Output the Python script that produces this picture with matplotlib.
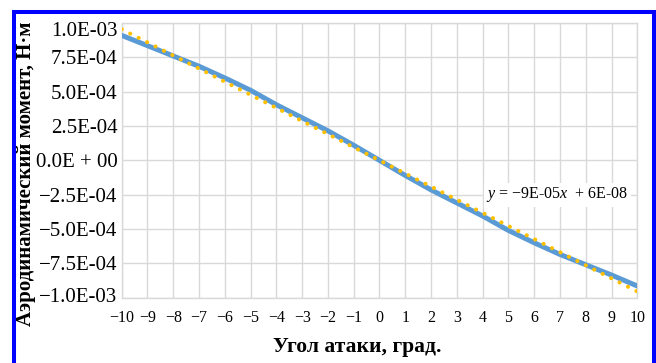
import matplotlib
matplotlib.use("Agg")
import matplotlib.pyplot as plt
import matplotlib.transforms as mtransforms
from matplotlib.patches import Rectangle
import numpy as np

# угол атаки, град. и аэродинамический момент, Н·м
angles = [-10, -9, -8, -7, -6, -5, -4, -3, -2, -1, 0,
          1, 2, 3, 4, 5, 6, 7, 8, 9, 10]
moment = [9.10e-4, 8.35e-4, 7.60e-4, 6.85e-4, 6.00e-4, 5.10e-4, 4.05e-4,
          3.10e-4, 2.15e-4, 1.10e-4, 0.0,
          -1.10e-4, -2.15e-4, -3.10e-4, -4.05e-4, -5.10e-4, -6.00e-4,
          -6.85e-4, -7.60e-4, -8.35e-4, -9.15e-4]

y_ticks = [1.0e-3, 7.5e-4, 5.0e-4, 2.5e-4, 0.0, -2.5e-4, -5.0e-4, -7.5e-4, -1.0e-3]
y_labels = ['1.0E-03', '7.5E-04', '5.0E-04', '2.5E-04', '0.0E + 00',
            '\u22122.5E-04', '\u22125.0E-04', '\u22127.5E-04', '\u22121.0E-03']
x_labels = [str(a).replace('-', '\u2212') for a in angles]

trend_text = '$y$ = \u22129E-05$x$  + 6E-08'

plt.rcParams['font.family'] = ['Liberation Serif', 'DejaVu Serif']
plt.rcParams['mathtext.fontset'] = 'custom'
plt.rcParams['mathtext.rm'] = 'Liberation Serif'
plt.rcParams['mathtext.it'] = 'Liberation Serif:italic'

fig = plt.figure(figsize=(6.56, 3.63), dpi=100)
ax = fig.add_axes([0.1855, 0.1799, 0.786, 0.7567])

# линия тренда (линейная аппроксимация)
k, b = np.polyfit(angles, moment, 1)
xt = np.array([angles[0], angles[-1]])
ax.plot(angles, moment, color='#5B9BD5', lw=3.6, solid_capstyle='round', zorder=3)
ax.plot(xt, k * xt + b, color='#FFC000', lw=2.9, linestyle=(0, (0.05, 2.3)),
        dash_capstyle='round', zorder=4)

ax.set_xlim(-10, 10)
ax.set_ylim(-1.0e-3, 1.0e-3)
ax.set_xticks(angles)
ax.set_xticklabels(x_labels, fontsize=11.5)
ax.set_yticks(y_ticks)
ax.set_yticklabels(y_labels, fontsize=15)
ax.tick_params(axis='both', length=0)
ax.tick_params(axis='y', pad=3)
ax.tick_params(axis='x', pad=9)
ax.grid(True, color='#D9D9D9', lw=1.0)
ax.set_axisbelow(True)
for s in ax.spines.values():
    s.set_color('#D9D9D9')
    s.set_linewidth(1.0)

# крайние подписи оси Y немного сдвинуты внутрь, как в Excel
ylab = ax.get_yticklabels()
ylab[0].set_transform(ylab[0].get_transform() +
                      mtransforms.ScaledTranslation(0, -6 / 100, fig.dpi_scale_trans))
ylab[-1].set_transform(ylab[-1].get_transform() +
                       mtransforms.ScaledTranslation(0, 3 / 100, fig.dpi_scale_trans))

ax.text(0.983, 0.374, trend_text, transform=ax.transAxes, ha='right', va='center',
        fontsize=11.5, bbox=dict(facecolor='white', edgecolor='none', pad=2), zorder=5)

fig.text(0.545, 0.044, 'Угол атаки, град.', ha='center', va='center',
         fontsize=15.5, fontweight='bold')
fig.text(0.040, 0.52, 'Аэродинамический момент, Н·м', ha='center', va='center',
         rotation=90, fontsize=15, fontweight='bold')

# синяя рамка
fig.patches.append(Rectangle((14 / 656, -0.1), 640 / 656, 1.1 - 12 / 363,
                             transform=fig.transFigure, fill=False,
                             edgecolor='#0000FF', lw=2.9, zorder=10))

fig.savefig('out.png', dpi=100)
